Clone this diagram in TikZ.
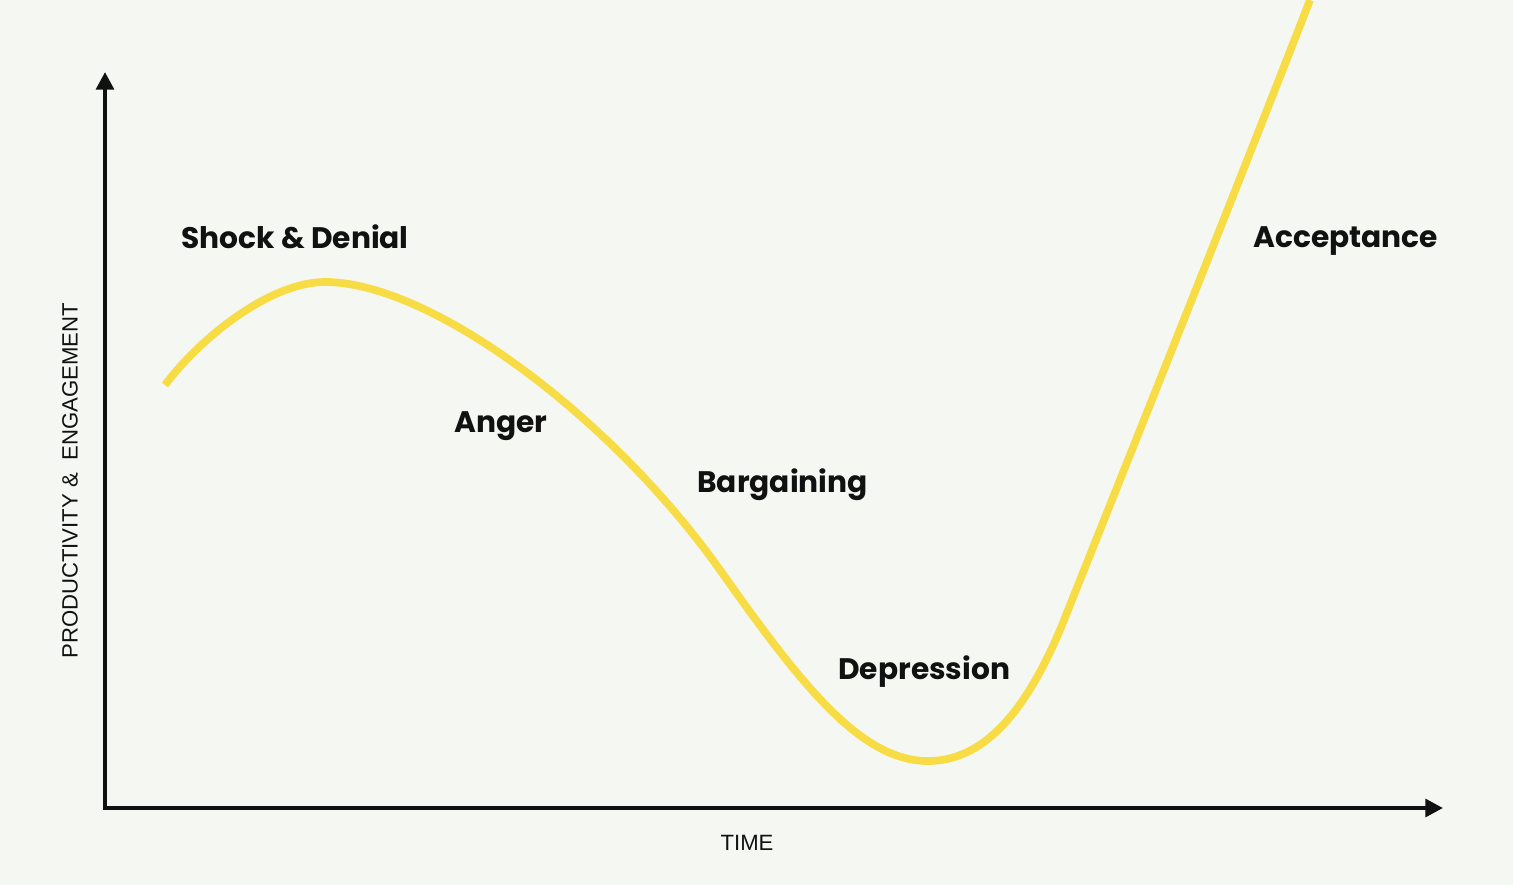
\documentclass[tikz,border=0pt]{standalone}
\usepackage{fontspec}
\usepackage{tikz}
\usetikzlibrary{arrows.meta,positioning,calc}
\setmainfont{Poppins}
\newfontfamily\axisfont{Liberation Sans}
\definecolor{Paper}{HTML}{F5F8F2}
\definecolor{Sun}{HTML}{F8DC45}
\definecolor{Ink}{HTML}{111111}

\begin{document}
\begin{tikzpicture}[x=0.02cm,y=-0.02cm,
    stage/.style={font=\fontsize{16.9}{20}\selectfont\bfseries,text=Ink,anchor=base west,inner sep=0pt},
    axlab/.style={font=\axisfont\fontsize{12.6}{14}\selectfont,text=Ink,inner sep=0pt},
    ax/.style={-{Triangle[length=10pt,width=10pt]},line width=2.3pt,draw=Ink}]
    \fill[Paper] (0,0) rectangle (1513,885);
    \useasboundingbox (0,0) rectangle (1513,885);
    \coordinate (o) at (105,808);
    \coordinate (ytip) at (105,72);
    \coordinate (xtip) at (1443,808);
    \draw[ax] (o)--(ytip); \draw[ax] ([xshift=-1pt]o)--(xtip);
    % curve
    \coordinate (start) at (165,385); \coordinate (peak) at (325,282);
    \coordinate (mid) at (720,570); \coordinate (low) at (928,761);
    \coordinate (rise) at (1060,630); \coordinate (top) at (1310,0);
    \draw[Sun,line width=4.4pt] (start) .. controls (200,338) and (270,282) .. (peak)
      .. controls (430,282) and (610,415) .. (mid)
      .. controls (800,683) and (860,761) .. (low)
      .. controls (990,761) and (1030,700) .. (rise)
      .. controls (1120,480) and (1240,180) .. (top);
    \node[stage] (shock) at (181,248) {Shock \& Denial};
    \node[stage] (anger) at (454,432) {Anger};
    \node[stage] (barg) at (697,492) {Bargaining};
    \node[stage] (depr) at (838,679) {Depression};
    \node[stage] (acc) at (1253,247) {Acceptance};
    \node[axlab] (time) at (747,843) {TIME};
    \node[axlab,rotate=90] (prod) at (70,481) {PRODUCTIVITY \&\ \ ENGAGEMENT};
  \end{tikzpicture}
\end{document}
